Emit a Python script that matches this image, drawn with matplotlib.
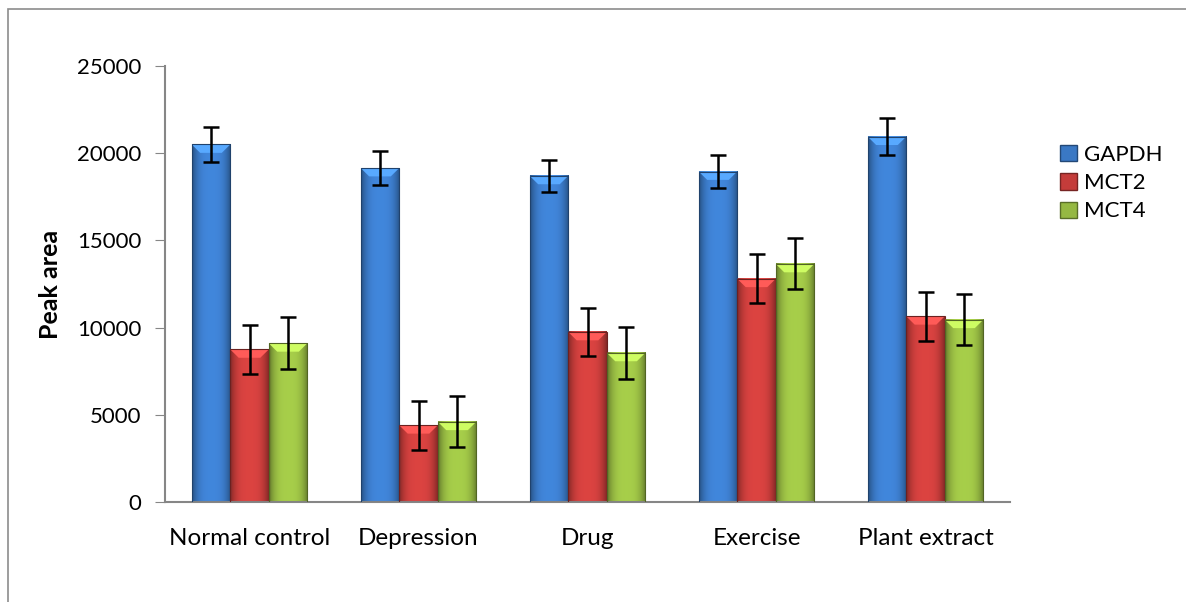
import matplotlib
matplotlib.use("Agg")
import matplotlib.pyplot as plt
from matplotlib.patches import Patch, Rectangle, Polygon
from matplotlib.colors import to_rgb
import numpy as np

plt.rcParams['font.family'] = ['Lato', 'DejaVu Sans']

groups = ["Normal control", "Depression", "Drug", "Exercise", "Plant extract"]
series = ["GAPDH", "MCT2", "MCT4"]
gapdh = [20500, 19150, 18700, 18950, 20950]
mct2 = [8750, 4400, 9750, 12800, 10650]
mct4 = [9100, 4600, 8550, 13650, 10450]
gapdh_err = [1000, 975, 935, 935, 1050]
mct2_err = [1400, 1400, 1400, 1400, 1410]
mct4_err = [1480, 1460, 1480, 1460, 1470]
yticks = [0, 5000, 10000, 15000, 20000, 25000]

colors = ["#3a78c4", "#c43c3a", "#95b842"]
values = [gapdh, mct2, mct4]
errors = [gapdh_err, mct2_err, mct4_err]

fig = plt.figure(figsize=(11.86, 6.02), dpi=100)
ax = fig.add_axes([165/1186, 1-502/602, 845/1186, 436/602])

# outer frame, open to the right and bottom like the cropped original
fig.patches.append(Rectangle((8/1186, -0.05), 1.2, 1-9/602+0.05,
                             transform=fig.transFigure, fill=False,
                             edgecolor="#8c8c8c", linewidth=1.2))

x = np.arange(len(groups))
w = 0.228

def shade_bar(rect, base):
    bx, bw, bh = rect.get_x(), rect.get_width(), rect.get_height()
    c = np.array(to_rgb(base))
    t = np.linspace(0, 1, 80)
    f = 1.12 - 0.45 * np.abs(2*t - 1)**3
    row = np.clip(c[None, :] * f[:, None], 0, 1)
    ax.imshow(row[None, :, :], extent=[bx, bx+bw, 0, bh], aspect='auto',
              zorder=2, interpolation='bilinear')
    d = 480
    inset = bw * 0.22
    top = Polygon([[bx, bh], [bx+bw, bh], [bx+bw-inset, bh-d], [bx+inset, bh-d]],
                  closed=True, facecolor=np.clip(c*1.3+0.05, 0, 1),
                  edgecolor='none', zorder=3)
    ax.add_patch(top)
    ax.add_patch(Rectangle((bx, 0), bw, bh, fill=False,
                           edgecolor=c*0.55, linewidth=0.8, zorder=3))

for i in range(3):
    bars = ax.bar(x + (i-1)*w, values[i], w, color=colors[i], zorder=1,
                  label=series[i])
    for r in bars:
        shade_bar(r, colors[i])
    ax.errorbar(x + (i-1)*w, values[i], yerr=errors[i], fmt='none',
                ecolor='black', elinewidth=1.8, capsize=6, capthick=1.8,
                zorder=5)

ax.set_xlim(-0.5, len(groups)-0.5)
ax.set_ylim(0, 25000)
ax.set_yticks(yticks)
ax.set_yticklabels([str(v) for v in yticks])
ax.set_xticks(x)
ax.set_xticklabels(groups)
ax.tick_params(axis='y', direction='out', length=7, color='#868686',
               labelsize=16, pad=10)
ax.tick_params(axis='x', length=0, labelsize=17.5, pad=19)
for s in ['top', 'right']:
    ax.spines[s].set_visible(False)
for s in ['left', 'bottom']:
    ax.spines[s].set_color('#868686')
    ax.spines[s].set_linewidth(1.5)
ax.set_ylabel("Peak area", fontsize=18, fontweight='bold', labelpad=11)

handles = [Patch(facecolor=c, edgecolor=np.array(to_rgb(c))*0.6) for c in colors]
fig.legend(handles, series, loc='upper left',
           bbox_to_anchor=(1040/1186, 1-125/602), frameon=False,
           fontsize=16, handlelength=0.75, handleheight=0.75,
           handletextpad=0.35, labelspacing=0.37)

fig.savefig("out.png", dpi=100)
